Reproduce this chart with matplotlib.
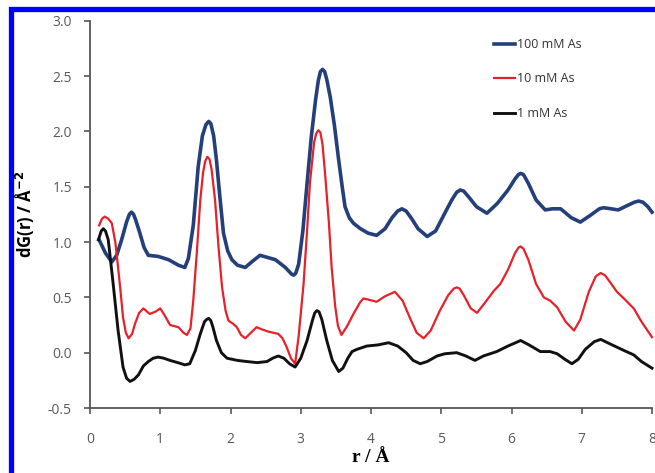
import matplotlib
matplotlib.use("Agg")
import matplotlib.pyplot as plt
from matplotlib.patches import Rectangle

# values (r in Angstrom, dG(r))
r_100 = [0.13, 0.22, 0.31, 0.38, 0.45, 0.52, 0.56, 0.59, 0.62, 0.65, 0.71, 0.77, 0.83, 0.97, 1.12,
         1.26, 1.35, 1.40, 1.47, 1.54, 1.60, 1.65, 1.69, 1.72, 1.76, 1.80, 1.85, 1.90, 1.96, 2.02,
         2.10, 2.21, 2.32, 2.42, 2.53, 2.64, 2.78, 2.87, 2.90, 2.93, 2.97, 3.03, 3.09, 3.15, 3.21,
         3.25, 3.28, 3.31, 3.34, 3.37, 3.42, 3.48, 3.54, 3.59, 3.63, 3.69, 3.75, 3.85, 3.96, 4.08,
         4.20, 4.30, 4.38, 4.44, 4.50, 4.58, 4.67, 4.80, 4.92, 5.05, 5.15, 5.22, 5.27, 5.32, 5.40,
         5.50, 5.65, 5.80, 5.95, 6.05, 6.10, 6.13, 6.17, 6.24, 6.35, 6.48, 6.58, 6.70, 6.85, 6.98,
         7.12, 7.25, 7.31, 7.42, 7.52, 7.65, 7.75, 7.81, 7.87, 7.94, 8.00]
g_100 = [1.02, 0.90, 0.82, 0.88, 1.02, 1.18, 1.25, 1.27, 1.25, 1.20, 1.08, 0.95, 0.88, 0.87, 0.84,
         0.79, 0.77, 0.85, 1.15, 1.68, 1.96, 2.06, 2.09, 2.07, 1.96, 1.74, 1.40, 1.08, 0.92, 0.84,
         0.79, 0.77, 0.83, 0.88, 0.86, 0.84, 0.77, 0.71, 0.70, 0.72, 0.80, 1.10, 1.53, 1.95, 2.28,
         2.46, 2.54, 2.56, 2.54, 2.47, 2.31, 2.05, 1.74, 1.50, 1.32, 1.22, 1.17, 1.12, 1.08, 1.06,
         1.12, 1.22, 1.28, 1.30, 1.28, 1.21, 1.12, 1.05, 1.10, 1.26, 1.38, 1.45, 1.47, 1.46, 1.40,
         1.32, 1.26, 1.35, 1.47, 1.57, 1.61, 1.62, 1.61, 1.53, 1.38, 1.29, 1.30, 1.30, 1.22, 1.18,
         1.24, 1.30, 1.31, 1.30, 1.29, 1.33, 1.36, 1.37, 1.36, 1.32, 1.27]

r_10 = [0.13, 0.17, 0.21, 0.26, 0.31, 0.36, 0.40, 0.44, 0.47, 0.51, 0.55, 0.60, 0.64, 0.70, 0.76,
        0.85, 0.93, 1.00, 1.06, 1.14, 1.20, 1.26, 1.33, 1.38, 1.43, 1.47, 1.52, 1.57, 1.61, 1.64,
        1.67, 1.70, 1.73, 1.78, 1.83, 1.88, 1.93, 1.97, 2.04, 2.09, 2.15, 2.21, 2.29, 2.37, 2.45,
        2.54, 2.68, 2.74, 2.80, 2.86, 2.92, 2.97, 3.04, 3.09, 3.13, 3.19, 3.22, 3.25, 3.28, 3.31,
        3.35, 3.40, 3.44, 3.49, 3.53, 3.58, 3.66, 3.75, 3.84, 3.89, 3.96, 4.08, 4.20, 4.34, 4.45,
        4.55, 4.65, 4.75, 4.85, 4.98, 5.10, 5.18, 5.22, 5.26, 5.32, 5.42, 5.51, 5.62, 5.75, 5.84,
        5.95, 6.05, 6.10, 6.13, 6.17, 6.24, 6.35, 6.46, 6.55, 6.65, 6.77, 6.89, 6.98, 7.10, 7.20,
        7.27, 7.33, 7.40, 7.50, 7.60, 7.74, 7.85, 8.00]
g_10 = [1.15, 1.21, 1.23, 1.21, 1.17, 1.00, 0.77, 0.52, 0.32, 0.18, 0.13, 0.17, 0.26, 0.36, 0.40,
        0.35, 0.37, 0.40, 0.34, 0.25, 0.24, 0.23, 0.18, 0.16, 0.22, 0.47, 0.90, 1.38, 1.63, 1.73,
        1.77, 1.75, 1.66, 1.38, 0.95, 0.59, 0.38, 0.29, 0.26, 0.23, 0.16, 0.13, 0.18, 0.23, 0.21,
        0.19, 0.17, 0.13, 0.05, -0.05, -0.10, 0.15, 0.62, 1.10, 1.53, 1.90, 1.98, 2.01, 1.99, 1.88,
        1.59, 1.18, 0.77, 0.42, 0.24, 0.16, 0.24, 0.35, 0.45, 0.49, 0.48, 0.46, 0.51, 0.55, 0.47,
        0.32, 0.18, 0.13, 0.20, 0.38, 0.52, 0.58, 0.59, 0.58, 0.52, 0.40, 0.36, 0.45, 0.56, 0.62,
        0.75, 0.90, 0.95, 0.96, 0.94, 0.84, 0.62, 0.50, 0.47, 0.41, 0.28, 0.20, 0.30, 0.55, 0.69,
        0.72, 0.70, 0.64, 0.55, 0.49, 0.40, 0.28, 0.14]

r_1 = [0.12, 0.16, 0.19, 0.22, 0.26, 0.33, 0.40, 0.47, 0.52, 0.57, 0.63, 0.69, 0.76, 0.83, 0.90,
       0.97, 1.05, 1.14, 1.25, 1.35, 1.42, 1.50, 1.57, 1.63, 1.66, 1.69, 1.72, 1.75, 1.80, 1.87,
       1.95, 2.10, 2.23, 2.38, 2.52, 2.60, 2.68, 2.76, 2.84, 2.92, 3.00, 3.09, 3.17, 3.20, 3.23,
       3.26, 3.30, 3.37, 3.45, 3.54, 3.60, 3.67, 3.73, 3.80, 3.94, 4.10, 4.25, 4.38, 4.50, 4.60,
       4.70, 4.80, 4.94, 5.05, 5.22, 5.35, 5.48, 5.60, 5.79, 5.95, 6.13, 6.25, 6.41, 6.55, 6.65,
       6.76, 6.86, 6.95, 7.05, 7.18, 7.27, 7.40, 7.60, 7.74, 7.85, 8.00]
g_1 = [1.02, 1.10, 1.12, 1.10, 1.02, 0.62, 0.20, -0.13, -0.23, -0.26, -0.24, -0.20, -0.12, -0.08, -0.05,
       -0.04, -0.05, -0.07, -0.09, -0.11, -0.10, 0.02, 0.17, 0.28, 0.30, 0.31, 0.29, 0.23, 0.11, 0.00,
       -0.05, -0.07, -0.08, -0.09, -0.08, -0.05, -0.03, -0.05, -0.10, -0.13, -0.05, 0.11, 0.30, 0.36, 0.38,
       0.37, 0.30, 0.11, -0.07, -0.17, -0.14, -0.05, 0.01, 0.03, 0.06, 0.07, 0.09, 0.06, 0.00, -0.07,
       -0.10, -0.08, -0.03, -0.01, 0.00, -0.03, -0.07, -0.03, 0.01, 0.06, 0.11, 0.07, 0.01, 0.01, -0.01,
       -0.06, -0.10, -0.06, 0.03, 0.10, 0.12, 0.08, 0.02, -0.02, -0.08, -0.14]

labels = ["100 mM As", "10 mM As", "1 mM As"]
colors = ["#243F7A", "#E8202A", "#111111"]

fig = plt.figure(figsize=(6.55, 4.73), dpi=100)
ax = fig.add_axes([90 / 655, 1 - 408 / 473, 562 / 655, 387.3 / 473])

ax.plot(r_100, g_100, c=colors[0], lw=2.6, label=labels[0], solid_joinstyle="round", clip_on=False)
ax.plot(r_10, g_10, c=colors[1], lw=1.6, label=labels[1], solid_joinstyle="round", clip_on=False)
ax.plot(r_1, g_1, c=colors[2], lw=2.1, label=labels[2], solid_joinstyle="round", clip_on=False)

ax.set_xlim(0, 8)
ax.set_ylim(-0.5, 3.0)
ax.set_xticks(range(0, 9))
ax.set_yticks([-0.5, 0.0, 0.5, 1.0, 1.5, 2.0, 2.5, 3.0])
ax.set_yticklabels(["-0.5", "0.0", "0.5", "1.0", "1.5", "2.0", "2.5", "3.0"])

for side in ["top", "right"]:
    ax.spines[side].set_visible(False)
for side in ["left", "bottom"]:
    ax.spines[side].set_color("#555555")
    ax.spines[side].set_linewidth(1.3)

ax.tick_params(axis="both", direction="out", length=4, width=1.2, color="#555555",
               labelcolor="#595959", labelsize=10)
ax.tick_params(axis="y", pad=9)
ax.tick_params(axis="x", pad=13)
for lab in ax.get_xticklabels() + ax.get_yticklabels():
    lab.set_family("Open Sans")

ax.set_ylabel("dG(r) / Å$^{\\mathbf{-2}}$", fontsize=12, fontweight="bold", family="Open Sans", labelpad=8)
ax.set_xlabel("r / Å", fontsize=14, fontweight="bold", family="Liberation Serif", labelpad=2)

leg = ax.legend(loc="upper left", bbox_to_anchor=(494 / 655, 1 - 38 / 473),
                bbox_transform=fig.transFigure, frameon=False, handlelength=1.7,
                handletextpad=0.15, labelspacing=1.72, borderpad=0, borderaxespad=0,
                prop={"family": "Open Sans", "size": 9})
for t in leg.get_texts():
    t.set_color("#333333")

# blue frame round the picture (top and left edges visible)
fig.add_artist(Rectangle((10.5 / 655, -0.5), 1.5, 0.98 + 0.5, fill=False,
                         edgecolor="#0000FF", linewidth=3.8, transform=fig.transFigure))

fig.savefig("out.png", dpi=100)
